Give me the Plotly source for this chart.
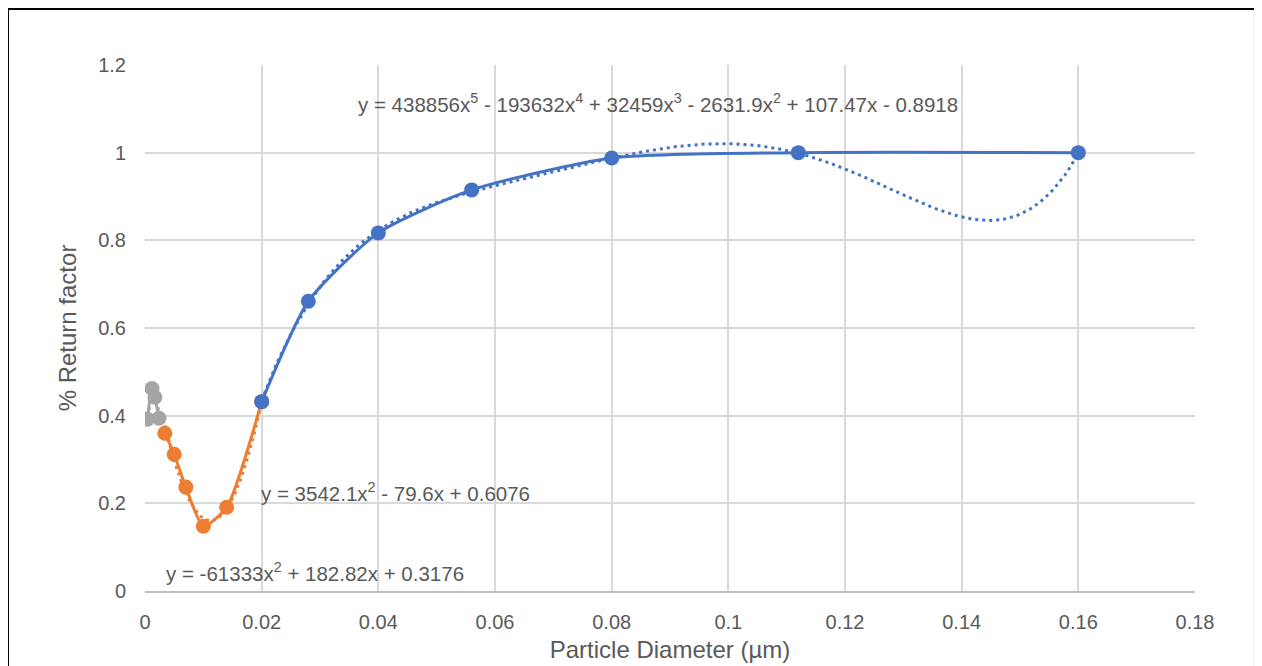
import numpy as np
import plotly.graph_objects as go

# Data
gray_x = [0.0004, 0.0012, 0.0017, 0.0024]
gray_y = [0.392, 0.462, 0.442, 0.394]
orange_x = [0.0034, 0.005, 0.007, 0.010, 0.014, 0.020]
orange_y = [0.360, 0.312, 0.237, 0.148, 0.191, 0.432]
blue_x = [0.020, 0.028, 0.040, 0.056, 0.080, 0.112, 0.160]
blue_y = [0.432, 0.661, 0.817, 0.915, 0.988, 1.000, 1.000]

# Trendline coefficients (highest power first), as displayed
blue_coef = [438856, -193632, 32459, -2631.9, 107.47, -0.8918]
orange_coef = [3542.1, -79.6, 0.6076]
gray_coef = [-61333, 182.82, 0.3176]

x_ticks = [0, 0.02, 0.04, 0.06, 0.08, 0.1, 0.12, 0.14, 0.16, 0.18]
x_tick_labels = ["0", "0.02", "0.04", "0.06", "0.08", "0.1", "0.12", "0.14", "0.16", "0.18"]
y_ticks = [0, 0.2, 0.4, 0.6, 0.8, 1.0, 1.2]
y_tick_labels = ["0", "0.2", "0.4", "0.6", "0.8", "1", "1.2"]

BLUE = "#4472C4"
ORANGE = "#ED7D31"
GRAY = "#A5A5A5"
TXT = "#595959"
FONT = "Liberation Sans"

fig = go.Figure()

def trend(coef, x0, x1):
    xs = np.linspace(x0, x1, 300)
    return xs, np.polyval(coef, xs)

# trendlines (dotted)
for coef, xs_, col in [(gray_coef, gray_x, GRAY), (orange_coef, orange_x, ORANGE), (blue_coef, blue_x, BLUE)]:
    tx, ty = trend(coef, min(xs_), max(xs_))
    fig.add_trace(go.Scatter(x=tx, y=ty, mode="lines",
                             line=dict(color=col, width=3, dash="3px,4px"),
                             hoverinfo="skip", showlegend=False))

# data series
for xs_, ys_, col in [(gray_x, gray_y, GRAY), (orange_x, orange_y, ORANGE), (blue_x, blue_y, BLUE)]:
    fig.add_trace(go.Scatter(x=xs_, y=ys_, mode="lines+markers",
                             line=dict(color=col, width=3, shape="spline", smoothing=0.6),
                             marker=dict(color=col, size=15),
                             showlegend=False))

ann_font = dict(family=FONT, size=20.5, color=TXT)
fig.add_annotation(x=0.0879, y=1.113, xref="x", yref="y", showarrow=False,
                   text="y = 438856x<sup>5</sup> - 193632x<sup>4</sup> + 32459x<sup>3</sup> - 2631.9x<sup>2</sup> + 107.47x - 0.8918",
                   font=ann_font)
fig.add_annotation(x=0.0429, y=0.226, xref="x", yref="y", showarrow=False,
                   text="y = 3542.1x<sup>2</sup> - 79.6x + 0.6076", font=ann_font)
fig.add_annotation(x=0.0291, y=0.043, xref="x", yref="y", showarrow=False,
                   text="y = -61333x<sup>2</sup> + 182.82x + 0.3176", font=ann_font)

# outer black frame
fig.add_shape(type="rect", xref="paper", yref="paper",
              x0=-0.1305, x1=1.0571, y0=-0.3, y1=1.1065,
              line=dict(color="black", width=2), fillcolor="rgba(0,0,0,0)", layer="above")

fig.update_layout(
    width=1254, height=658,
    margin=dict(l=137, r=67, t=57, b=75, autoexpand=False),
    paper_bgcolor="white", plot_bgcolor="white",
    font=dict(family=FONT, size=20, color=TXT),
    xaxis=dict(range=[0, 0.18], tickvals=x_ticks, ticktext=x_tick_labels,
               showgrid=True, gridcolor="#D9D9D9", gridwidth=1.5,
               zeroline=False, showline=True, linecolor="#BFBFBF", linewidth=1.5,
               ticks="", ticklabelstandoff=12, automargin=False,
               title=dict(text="Particle Diameter (µm)", font=dict(family=FONT, size=24, color=TXT), standoff=9),
               tickfont=dict(family=FONT, size=20, color=TXT)),
    yaxis=dict(range=[0, 1.2], tickvals=y_ticks, ticktext=y_tick_labels,
               showgrid=True, gridcolor="#D9D9D9", gridwidth=1.5,
               zeroline=False, showline=False, ticks="", ticklabelstandoff=18,
               automargin=False,
               title=dict(text="% Return factor", font=dict(family=FONT, size=24, color=TXT), standoff=14),
               tickfont=dict(family=FONT, size=20, color=TXT)),
)

fig.write_html("out.html")
